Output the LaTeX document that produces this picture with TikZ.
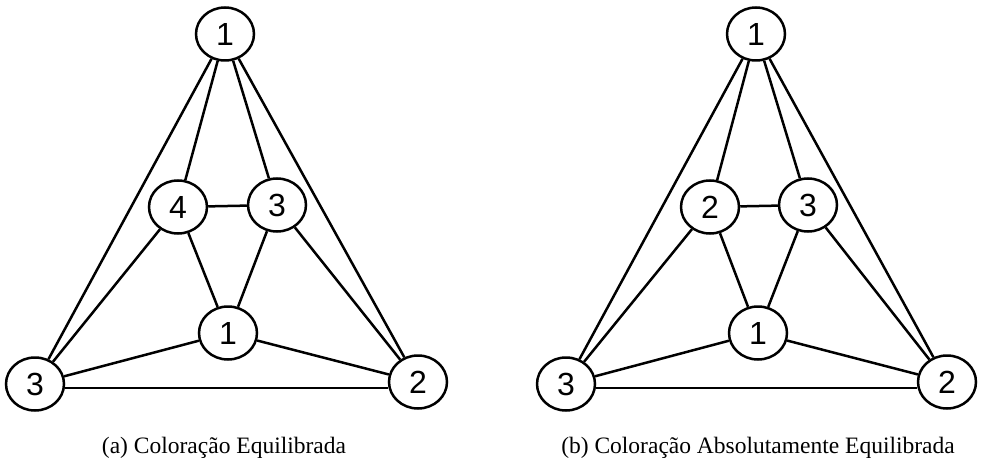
\documentclass[tikz,border=0pt]{standalone}
\usepackage{fontspec}
\setmainfont{Liberation Serif}
\newfontfamily\numfont{Liberation Sans}
\usetikzlibrary{shapes.geometric}

\begin{document}
\begin{tikzpicture}[x=1pt,y=-1pt,line width=2.5pt,
  vert/.style={draw,ellipse,minimum width=58pt,minimum height=53pt,inner sep=0pt,
    font=\numfont\fontsize{32}{34}\selectfont},
  capt/.style={anchor=base,font=\fontsize{23.5}{28}\selectfont}]
\useasboundingbox (0,0) rectangle (981,465);
% (a) left graph
\draw (225,34) node[vert](topA) {1};
\draw (178,207) node[vert](inlA) {4};
\draw (277,205) node[vert](inrA) {3};
\draw (228,333) node[vert](inbA) {1};
\draw (35,384) node[vert](botlA) {3};
\draw (418,382) node[vert](botrA) {2};
\draw (topA) -- (botlA);
\draw (topA) -- (inlA);
\draw (topA) -- (inrA);
\draw (topA) -- (botrA);
\draw (inlA) -- (inrA);
\draw (inlA) -- (inbA);
\draw (inrA) -- (inbA);
\draw (inlA) -- (botlA);
\draw (inrA) -- (botrA);
\draw (inbA) -- (botlA);
\draw (inbA) -- (botrA);
\draw ([yshift=-4pt]botlA.east) -- ([yshift=-6pt]botrA.west);
\node[capt] (captA) at (224,453) {(a) Coloração Equilibrada};
% (b) right graph
\draw (756,34) node[vert](topB) {1};
\draw (710,207) node[vert](inlB) {2};
\draw (808,205) node[vert](inrB) {3};
\draw (758,333) node[vert](inbB) {1};
\draw (566,384) node[vert](botlB) {3};
\draw (947,382) node[vert](botrB) {2};
\draw (topB) -- (botlB);
\draw (topB) -- (inlB);
\draw (topB) -- (inrB);
\draw (topB) -- (botrB);
\draw (inlB) -- (inrB);
\draw (inlB) -- (inbB);
\draw (inrB) -- (inbB);
\draw (inlB) -- (botlB);
\draw (inrB) -- (botrB);
\draw (inbB) -- (botlB);
\draw (inbB) -- (botrB);
\draw ([yshift=-4pt]botlB.east) -- ([yshift=-6pt]botrB.west);
\node[capt] (captB) at (758,453) {(b) Coloração Absolutamente Equilibrada};
\end{tikzpicture}
\end{document}
